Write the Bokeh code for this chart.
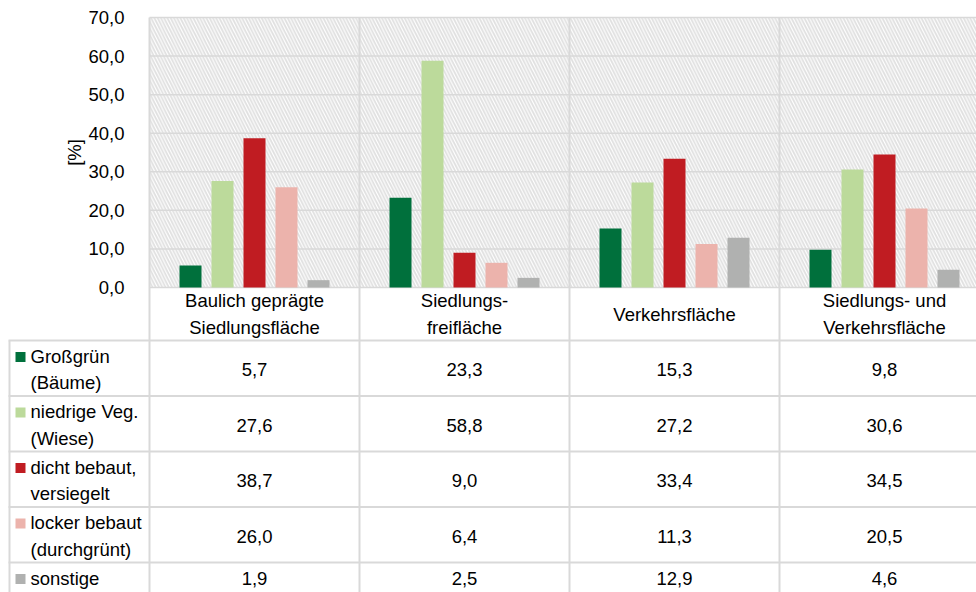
from bokeh.plotting import figure
from bokeh.models import Range1d, FixedTicker, BoxAnnotation, CustomJSTickFormatter
from bokeh.embed import file_html
from bokeh.resources import INLINE
from bokeh.core.properties import value

# ---------------- data ----------------
categories = ["Baulich geprägte\nSiedlungsfläche", "Siedlungs-\nfreifläche",
              "Verkehrsfläche", "Siedlungs- und\nVerkehrsfläche"]
series_names = ["Großgrün\n(Bäume)", "niedrige Veg.\n(Wiese)", "dicht bebaut,\nversiegelt",
                "locker bebaut\n(durchgrünt)", "sonstige"]
grossgruen = [5.7, 23.3, 15.3, 9.8]
niedrige_veg = [27.6, 58.8, 27.2, 30.6]
dicht_bebaut = [38.7, 9.0, 33.4, 34.5]
locker_bebaut = [26.0, 6.4, 11.3, 20.5]
sonstige = [1.9, 2.5, 12.9, 4.6]
y_ticks = [0, 10, 20, 30, 40, 50, 60, 70]

series_values = [grossgruen, niedrige_veg, dicht_bebaut, locker_bebaut, sonstige]
colors = ["#00703C", "#BCDA9B", "#C01C22", "#ECB3AC", "#B0B1B0"]

# ---------------- styles / layout (pixels) ----------------
FONT = "Liberation Sans"
FS = "18.5px"
GRID = "#d9d9d9"
TXT = "#000000"

W, H = 976, 592
PLOT_L, PLOT_T = 149, 17
ZERO_Y = 287
CAT_W = 210
px_per_unit = (ZERO_Y - PLOT_T) / 70.0
HEADER_BOTTOM = 340
ROW_H = 55.5
BAR_STEP = 32 / CAT_W
BAR_W = 22 / CAT_W


def X(px):
    return (px - PLOT_L) / CAT_W


def Y(py):
    return (ZERO_Y - py) / px_per_unit


fmt = lambda v: f"{v:.1f}".replace(".", ",")
ncat = len(categories)

p = figure(width=W, height=H, output_backend="svg", toolbar_location=None,
           x_range=Range1d(X(0), X(W)), y_range=Range1d(Y(H), Y(0)),
           x_axis_location=None, min_border=0)
p.outline_line_color = None
p.background_fill_color = "white"
p.grid.visible = False

ax = p.yaxis[0]
ax.fixed_location = 0
ax.bounds = (min(y_ticks), max(y_ticks))
ax.ticker = FixedTicker(ticks=y_ticks)
ax.formatter = CustomJSTickFormatter(code="return tick.toFixed(1).replace('.', ',');")
ax.major_tick_line_color = None
ax.minor_tick_line_color = None
ax.axis_line_color = None
ax.major_label_text_font = FONT
ax.major_label_text_font_size = FS
ax.major_label_text_color = TXT
ax.major_label_standoff = 19
ax.axis_label = "[%]"
ax.axis_label_text_font = FONT
ax.axis_label_text_font_size = FS
ax.axis_label_text_font_style = "normal"
ax.axis_label_text_color = TXT
ax.axis_label_standoff = 0

# hatched plot background
p.add_layout(BoxAnnotation(bottom=0, top=70, left=0, fill_color=None, fill_alpha=0, line_color=None,
                           hatch_pattern="left_diagonal_line", hatch_color="#e0e0e0",
                           hatch_scale=6.5, hatch_weight=1.8, level="image"))

# gridlines
x_end = X(W)
p.segment(x0=[0] * len(y_ticks), x1=[x_end] * len(y_ticks), y0=y_ticks, y1=y_ticks,
          line_color=GRID, line_width=1.5, level="underlay")
vx = list(range(ncat))
p.segment(x0=vx, x1=vx, y0=[70] * ncat, y1=[Y(H)] * ncat, line_color=GRID, line_width=2,
          level="underlay")

# bars
for j, vals in enumerate(series_values):
    xs = [i + 0.5 + (j - 2) * BAR_STEP for i in range(ncat)]
    p.vbar(x=xs, top=vals, bottom=0, width=BAR_W, fill_color=colors[j], line_color=None)

# category header row
p.text(x=[i + 0.5 for i in range(ncat)], y=[Y((ZERO_Y + HEADER_BOTTOM) / 2)] * ncat,
       text=categories, text_align="center", text_baseline="middle",
       text_font=value(FONT), text_font_size=FS, text_color=TXT, text_line_height=1.25)

# data table
row_tops = [HEADER_BOTTOM + j * ROW_H for j in range(len(series_names))]
nr = len(row_tops)
p.segment(x0=[X(8)] * nr, x1=[x_end] * nr, y0=[Y(rt) for rt in row_tops], y1=[Y(rt) for rt in row_tops],
          line_color=GRID, line_width=2, level="underlay")
p.segment(x0=[X(9)], x1=[X(9)], y0=[Y(HEADER_BOTTOM)], y1=[Y(H)], line_color=GRID, line_width=2,
          level="underlay")

sq_y, leg_y, val_x, val_y, val_t = [], [], [], [], []
for j, (name, vals, rt) in enumerate(zip(series_names, series_values, row_tops)):
    two = "\n" in name
    sq_y.append(Y(rt + 16.5))
    leg_y.append(Y(rt + (29 if two else 16)))
    for i, v in enumerate(vals):
        val_x.append(i + 0.5)
        val_y.append(Y(rt + (29 if two else 16)))
        val_t.append(fmt(v))

p.rect(x=[X(20)] * nr, y=sq_y, width=10, height=10, width_units="screen", height_units="screen",
       fill_color=colors, line_color=None)
p.text(x=[X(30)] * nr, y=leg_y, text=series_names, text_align="left", text_baseline="middle",
       text_font=value(FONT), text_font_size=FS, text_color=TXT, text_line_height=1.25)
p.text(x=val_x, y=val_y, text=val_t, text_align="center", text_baseline="middle",
       text_font=value(FONT), text_font_size=FS, text_color=TXT)

open("out.html", "w").write(file_html(p, INLINE))
